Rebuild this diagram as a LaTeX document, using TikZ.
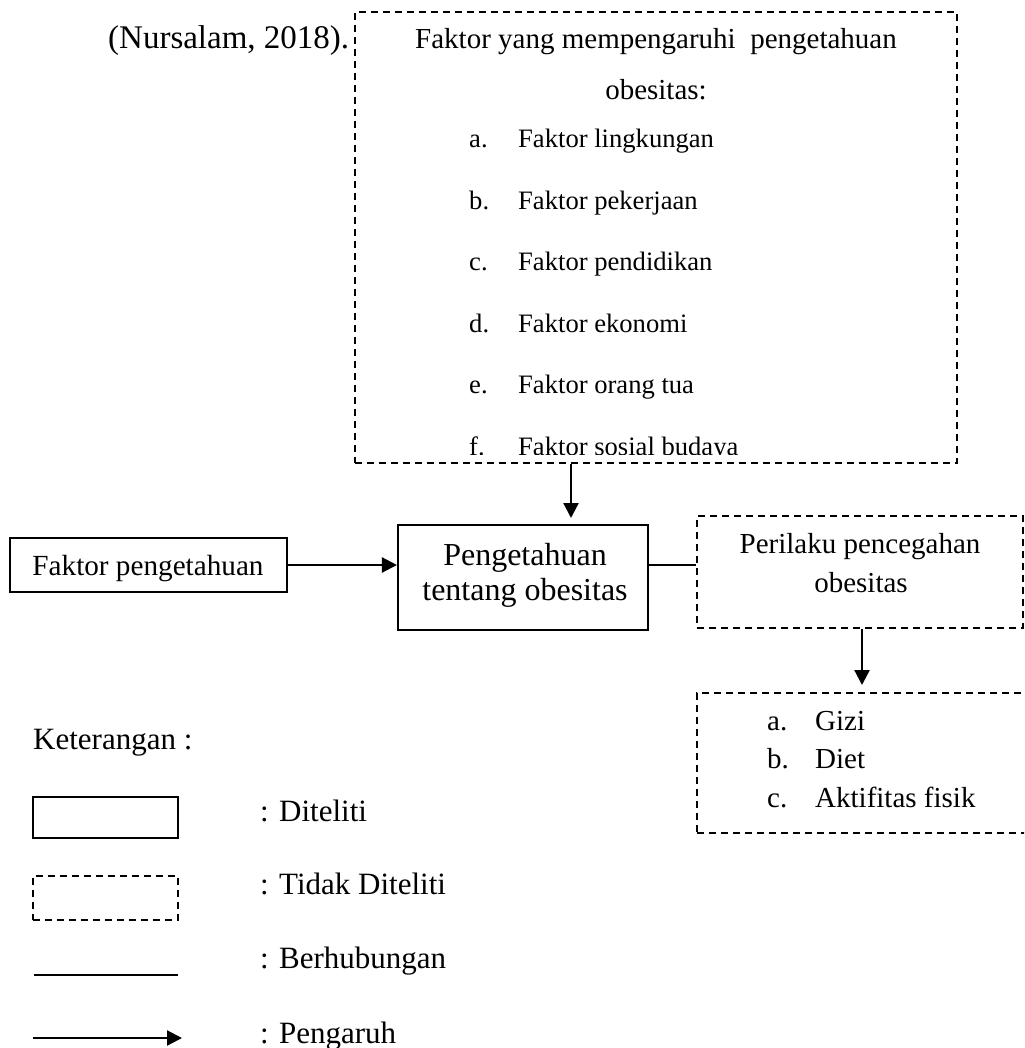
\documentclass[tikz,border=0pt]{standalone}
\usepackage{fontspec}
\setmainfont{Liberation Serif}
\usetikzlibrary{arrows.meta,calc}
\newcommand{\myfs}[1]{\fontsize{#1}{#1}\selectfont}
\tikzset{
  box/.style={draw, rectangle, line width=2.1pt, inner sep=0pt},
  dbox/.style={box, line width=1.9pt, dash pattern=on 7pt off 5pt},
  arr/.style={line width=2.3pt, -{Triangle[length=15pt,width=15pt]}},
  conn/.style={line width=2.3pt},
  txtw/.style={inner sep=0pt, anchor=base west},
  txtc/.style={inner sep=0pt, anchor=base}
}
\begin{document}
\begin{tikzpicture}[x=1pt,y=-1pt]
\clip (0,0) rectangle (1024,1048);
\fill[white] (0,0) rectangle (1024,1048);

% citation
\node[txtw] (nurs) at (108,49) {\myfs{33}(Nursalam, 2018).};

% top dashed box
\node[dbox, minimum width=602, minimum height=451] (top) at (656,237.5) {};
\node[txtc] (title1) at (656,49) {\myfs{29}Faktor yang mempengaruhi\ \ pengetahuan};
\node[txtc] (title2) at (656,100) {\myfs{29}obesitas:};
\node[txtw] (la) at (469,148) {\myfs{26.6}a.};
\node[txtw] (ta) at (518,148) {\myfs{26.6}Faktor lingkungan};
\node[txtw] (lb) at (469,210) {\myfs{26.6}b.};
\node[txtw] (tb) at (518,210) {\myfs{26.6}Faktor pekerjaan};
\node[txtw] (lc) at (469,271) {\myfs{26.6}c.};
\node[txtw] (tc) at (518,271) {\myfs{26.6}Faktor pendidikan};
\node[txtw] (ld) at (469,332) {\myfs{26.6}d.};
\node[txtw] (td) at (518,332) {\myfs{26.6}Faktor ekonomi};
\node[txtw] (le) at (469,393) {\myfs{26.6}e.};
\node[txtw] (te) at (518,393) {\myfs{26.6}Faktor orang tua};
\begin{scope}
  \clip (356,13) rectangle (956,454);
  \node[txtw] (lf) at (469,455) {\myfs{26.6}f.};
  \node[txtw] (tf) at (518,455) {\myfs{26.6}Faktor sosial budaya};
\end{scope}

% left box
\node[box, minimum width=277, minimum height=54] (fp) at (148.5,565) {};
\node[txtc] (fptxt) at (148,575) {\myfs{29.2}Faktor pengetahuan};

% center box
\node[box, minimum width=250, minimum height=105] (center) at (523,577.5) {};
\node[txtc] (ct1) at (525,565) {\myfs{32}Pengetahuan};
\node[txtc] (ct2) at (525,600) {\myfs{32}tentang obesitas};

% right dashed box
\node[dbox, minimum width=326, minimum height=112] (peri) at (860,572) {};
\node[txtc] (pt1) at (860,553) {\myfs{29}Perilaku pencegahan};
\node[txtc] (pt2) at (861,592) {\myfs{29}obesitas};

% bottom right dashed box
\node[dbox, minimum width=338, minimum height=140] (bot) at (866,763) {};
\node[txtw] (ba) at (767,730) {\myfs{29}a.};
\node[txtw] (bat) at (815,730) {\myfs{29}Gizi};
\node[txtw] (bb) at (767,768) {\myfs{29}b.};
\node[txtw] (bbt) at (815,768) {\myfs{29}Diet};
\node[txtw] (bc) at (767,807) {\myfs{29}c.};
\node[txtw] (bct) at (815,807) {\myfs{29}Aktifitas fisik};

% connectors
\coordinate (t1) at (571,518);
\draw[arr] (top.south -| t1) -- (t1);
\draw[arr] (fp.east) -- (fp.east -| center.west);
\coordinate (c1) at (0,565);
\draw[conn] (center.east |- c1) -- (peri.west |- c1);
\coordinate (t2) at (862,685);
\draw[arr] (peri.south -| t2) -- (t2);

% legend
\node[txtw] (ket) at (33,749) {\myfs{31}Keterangan :};
\node[box, minimum width=145, minimum height=41] (lg1) at (105.5,817.5) {};
\node[txtw] (lt1) at (260,821) {\myfs{31}: Diteliti};
\node[dbox, minimum width=145, minimum height=44] (lg2) at (105.5,898) {};
\node[txtw] (lt2) at (260,894) {\myfs{31}: Tidak Diteliti};
\coordinate (l1) at (34,975);
\coordinate (l2) at (178,975);
\draw[conn] (l1) -- (l2);
\node[txtw] (lt3) at (260,968) {\myfs{31}: Berhubungan};
\coordinate (a1) at (33,1038);
\coordinate (a2) at (182,1038);
\draw[arr] (a1) -- (a2);
\node[txtw] (lt4) at (260,1043) {\myfs{31}: Pengaruh};
\end{tikzpicture}
\end{document}
